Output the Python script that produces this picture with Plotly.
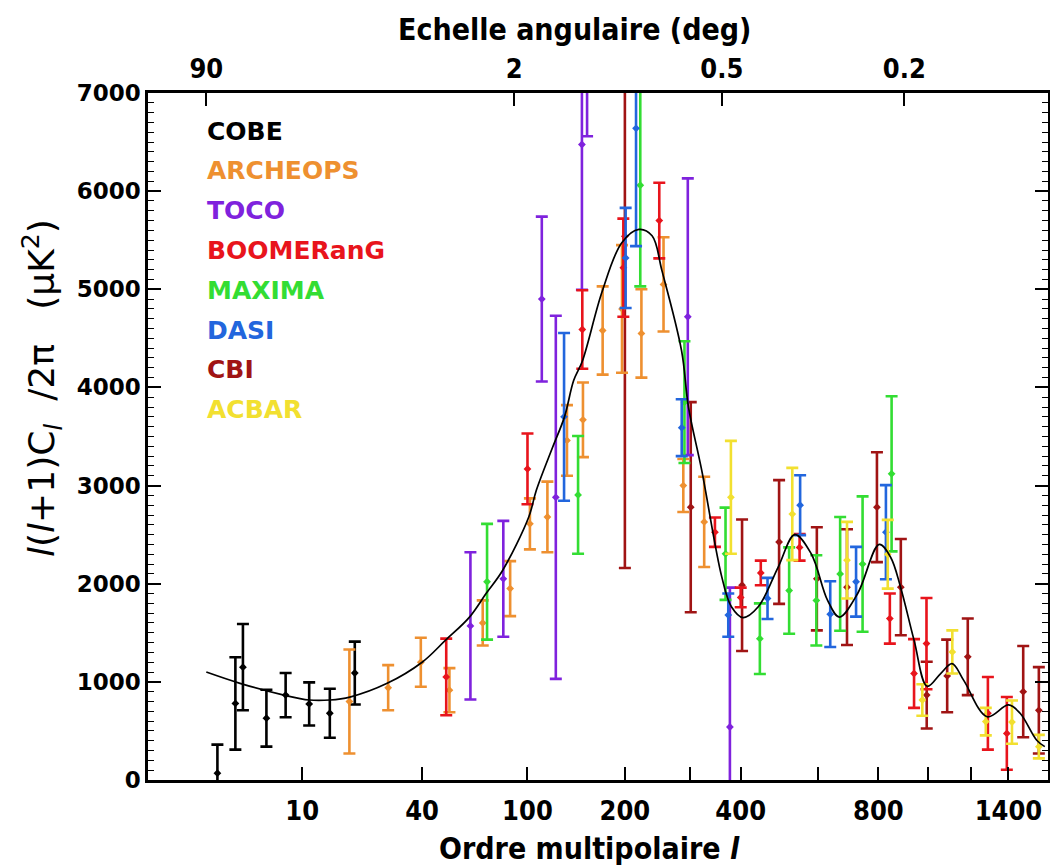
import plotly.graph_objects as go

# multipole axis is drawn on an ell^(1/4) scale, like the original figure
POW = 0.25

# theory curve
theory_ell = [2, 3.8, 7.7, 11, 14.4, 18.4, 28, 40, 50, 62, 71.5, 82, 101, 107, 121, 132, 141,
              150, 172, 196, 219, 238, 253, 285, 297, 321, 360, 380, 405, 440, 489, 533, 579,
              628, 665, 726, 803, 846, 885, 940, 996, 1056, 1109, 1165, 1284, 1401, 1467, 1566, 1616]
theory_val = [1100, 985, 865, 815, 815, 845, 985, 1200, 1425, 1660, 1900, 2135, 2680, 2950, 3390,
              3700, 4070, 4270, 4980, 5475, 5610, 5545, 5190, 4375, 3800, 3155, 2070, 1765, 1655,
              1765, 2170, 2500, 2305, 1830, 1660, 1900, 2400, 2270, 1965, 1425, 955, 1085, 1185,
              1015, 645, 765, 680, 405, 340]

cobe_ell = [2.5, 3.5, 4.0, 5.9, 7.9, 11.0, 14.4, 19.5]
cobe_val = [70, 780, 1150, 630, 865, 775, 680, 1090]
cobe_err = [290, 470, 440, 290, 225, 220, 250, 320]

archeops_ell = [18.3, 28.3, 39.5, 51.8, 69.5, 87.2, 101.9, 116.4, 134.4, 150.6, 172.5, 196.3,
                222.5, 255.5, 288, 325.6]
archeops_val = [800, 940, 1200, 915, 1600, 1950, 2610, 2680, 3460, 3670, 4580, 4800, 4550,
                5050, 3000, 2630]
archeops_err = [530, 230, 250, 225, 230, 280, 260, 360, 360, 380, 450, 650, 450, 480, 270, 460]

toco_ell = [62.5, 82.5, 111.6, 123.9, 149.5, 155, 295.8, 376.8]
toco_val = [1570, 2050, 4900, 2880, 6475, 7500, 4720, 540]
toco_err = [750, 590, 840, 1850, 1480, 940, 1410, 1420]

boom_ell = [50.3, 100, 149.9, 198, 248.9, 346.3, 400, 446, 546, 843, 940, 993, 1288, 1391]
boom_val = [1050, 3170, 4590, 5220, 5700, 2525, 1860, 2110, 2370, 1645, 1085, 1390, 680, 475]
boom_err = [390, 360, 400, 500, 385, 150, 100, 125, 135, 255, 350, 465, 370, 370]

maxima_ell = [72.1, 145.5, 220.9, 290, 367.7, 443.8, 517.6, 594, 667.6, 743, 849.8]
maxima_val = [2020, 2905, 6060, 3850, 2305, 1440, 1930, 1830, 2100, 2200, 3120]
maxima_err = [590, 600, 1030, 620, 470, 360, 440, 460, 580, 690, 790]

dasi_ell = [131.6, 201, 215, 285.3, 373.4, 462.3, 547.5, 636.2, 720.5, 828]
dasi_val = [3700, 5320, 6640, 3590, 1680, 1850, 2800, 1690, 2020, 2525]
dasi_err = [855, 510, 1200, 290, 220, 210, 305, 335, 355, 480]

cbi_ell = [200, 301, 403, 491.3, 595.5, 690, 794.5, 886, 994, 1086, 1185, 1485, 1579]
cbi_val = [5540, 2780, 1985, 2425, 2050, 1965, 2780, 1965, 865, 1060, 1255, 900, 710]
cbi_err = [3380, 1070, 670, 630, 525, 590, 560, 490, 340, 370, 390, 465, 440]

acbar_ell = [378.9, 526, 690, 835, 975, 1110, 1277, 1420, 1579]
acbar_val = [2880, 2710, 2240, 2300, 815, 1305, 595, 590, 340]
acbar_err = [575, 470, 390, 350, 160, 220, 140, 220, 120]

names = ['COBE', 'ARCHEOPS', 'TOCO', 'BOOMERanG', 'MAXIMA', 'DASI', 'CBI', 'ACBAR']
colors = ['#000000', '#ee9030', '#7f22dd', '#e8141c', '#33dd33', '#2266dd', '#a01414', '#f2e030']

ell_ticks = [10, 40, 100, 200, 300, 400, 600, 800, 1000, 1200, 1400]
ell_labels = ['10', '40', '100', '200', '', '400', '', '800', '', '', '1400']
deg_ticks = [90, 2, 0.5, 0.2]
deg_labels = ['90', '2', '0.5', '0.2']

X_RANGE = [0.831, 6.36]


def sx(ells):
    return [e ** POW for e in ells]


experiments = [
    (cobe_ell, cobe_val, cobe_err),
    (archeops_ell, archeops_val, archeops_err),
    (toco_ell, toco_val, toco_err),
    (boom_ell, boom_val, boom_err),
    (maxima_ell, maxima_val, maxima_err),
    (dasi_ell, dasi_val, dasi_err),
    (cbi_ell, cbi_val, cbi_err),
    (acbar_ell, acbar_val, acbar_err),
]

NARROW = "'DejaVu Sans Condensed', 'Liberation Sans Narrow', sans-serif"
WIDE = "'DejaVu Sans', Verdana, sans-serif"

fig = go.Figure()

# draw CBI first so the wide maroon bar sits underneath
order = [6, 0, 1, 2, 3, 4, 5, 7]
for i in order:
    ell, val, err = experiments[i]
    fig.add_trace(go.Scatter(
        x=sx(ell), y=val, mode='markers', name=names[i],
        marker=dict(color=colors[i], size=6, symbol='diamond'),
        error_y=dict(type='data', array=err, color=colors[i], thickness=2.6, width=6),
        showlegend=False, hoverinfo='skip'))

fig.add_trace(go.Scatter(
    x=sx(theory_ell), y=theory_val, mode='lines',
    line=dict(color='black', width=1.7, shape='spline', smoothing=1.0),
    showlegend=False, hoverinfo='skip'))

# empty trace so the angular (top) axis is drawn
fig.add_trace(go.Scatter(x=[None], y=[None], xaxis='x2', showlegend=False))

tick_narrow = dict(family=NARROW, size=27, color='black', weight='bold')

fig.update_layout(
    width=1050, height=865,
    paper_bgcolor='white', plot_bgcolor='white',
    margin=dict(l=148, r=2, t=93, b=85, autoexpand=False),
    xaxis=dict(range=X_RANGE, tickvals=sx(ell_ticks), ticktext=ell_labels,
               ticks='inside', ticklen=13, tickwidth=2, tickcolor='black',
               showline=True, linewidth=2.5, linecolor='black', automargin=False,
               showgrid=False, zeroline=False, ticklabelstandoff=5,
               tickfont=tick_narrow),
    xaxis2=dict(range=X_RANGE, overlaying='x', side='top', anchor='y',
                tickvals=[(180 / d) ** POW for d in deg_ticks], ticktext=deg_labels,
                ticks='inside', ticklen=13, tickwidth=2, tickcolor='black',
                showline=True, linewidth=2.5, linecolor='black', automargin=False,
                showgrid=False, zeroline=False, ticklabelstandoff=1,
                tickfont=tick_narrow),
    yaxis=dict(range=[0, 7000], tickvals=list(range(0, 7001, 1000)),
               ticks='inside', ticklen=13, tickwidth=2, tickcolor='black',
               minor=dict(dtick=100, ticks='inside', ticklen=6, tickwidth=1.3, tickcolor='black'),
               showline=True, linewidth=2.5, linecolor='black', mirror='ticks',
               showgrid=False, zeroline=False, ticklabelstandoff=0, automargin=False,
               tickfont=dict(family=WIDE, size=23, color='black', weight='bold')),
)

annotations = [
    dict(text='Ordre multipolaire <i>l</i>', x=0.491, y=-0.099, xref='paper', yref='paper',
         xanchor='center', yanchor='middle', showarrow=False,
         font=dict(family=NARROW, size=30, color='black', weight='bold')),
    dict(text='Echelle angulaire (deg)', x=0.474, y=1.092, xref='paper', yref='paper',
         xanchor='center', yanchor='middle', showarrow=False,
         font=dict(family=NARROW, size=30, color='black', weight='bold')),
    dict(text='<i>l</i>(<i>l</i>+1)C<sub><i>l</i></sub>  /2π   (μK<sup>2</sup>)',
         x=(42 - 148) / 900, y=(780 - 388) / 687, xref='paper', yref='paper', textangle=-90,
         xanchor='center', yanchor='middle', showarrow=False,
         font=dict(family=WIDE, size=36, color='black')),
]

# coloured experiment names in the upper-left corner
for k, (name, col) in enumerate(zip(names, colors)):
    annotations.append(dict(
        text=name, x=(205 - 148) / 900, y=(780 - (131 + 39.8 * k)) / 687,
        xref='paper', yref='paper',
        xanchor='left', yanchor='middle', showarrow=False,
        font=dict(family=WIDE, size=25, color=col, weight='bold')))

fig.update_layout(annotations=annotations)

# page body margin would shift the figure by 8px, so drop it
fig.write_html("out.html", config={'displayModeBar': False},
               post_script="document.body.style.margin='0px';")
